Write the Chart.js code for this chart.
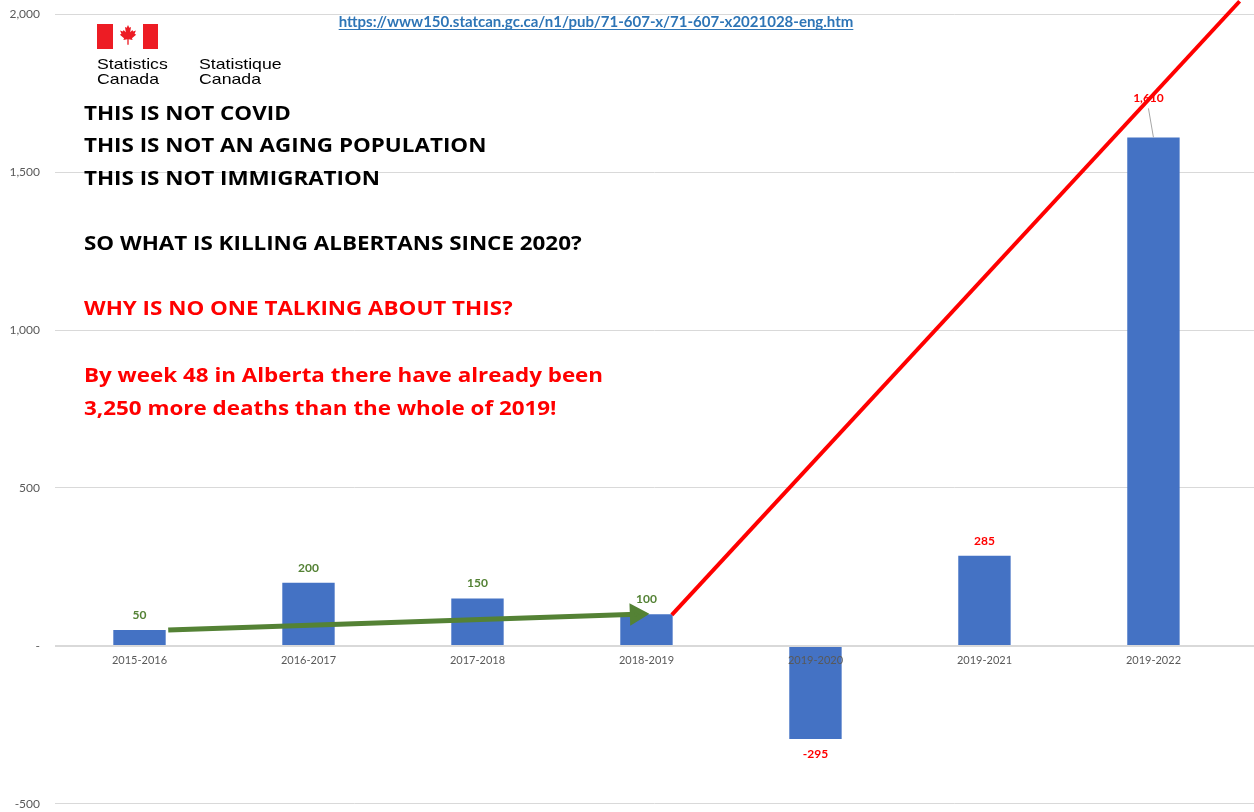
<!DOCTYPE html>
<html>
<head>
<meta charset="utf-8">
<script src="https://cdn.jsdelivr.net/npm/chart.js@4"></script>
<style>
  body { margin: 0; background: #fff; overflow: hidden; }
  /* canvas a bit larger than the window so the plot area lands where the reference has it */
  #wrap { width: 1267px; height: 834px; position: absolute; left: 0; top: -8px; }
</style>
</head>
<body>
<div id="wrap"><canvas id="deathChart"></canvas></div>
<script>
const categories = ['2015-2016', '2016-2017', '2017-2018', '2018-2019', '2019-2020', '2019-2021', '2019-2022']
const deathChange = [50, 200, 150, 100, -295, 285, 1610]
const labelColors = ['#548235', '#548235', '#548235', '#548235', '#ff0000', '#ff0000', '#ff0000']
// trend arrows, x is the category index
const greenTrend = [{x: 0.17, y: 50}, {x: 2.94, y: 100}]
const redTrend = [{x: 3.15, y: 98}, {x: 6.51, y: 2041}]

const blackLines = ['THIS IS NOT COVID', 'THIS IS NOT AN AGING POPULATION', 'THIS IS NOT IMMIGRATION', '', 'SO WHAT IS KILLING ALBERTANS SINCE 2020?']
const redLines = ['WHY IS NO ONE TALKING ABOUT THIS?', '', 'By week 48 in Alberta there have already been', '3,250 more deaths than the whole of 2019!']
const sourceUrl = 'https://www150.statcan.gc.ca/n1/pub/71-607-x/71-607-x2021028-eng.htm'

const leaf = [[0,-1],[0.12,-0.75],[0.27,-0.82],[0.2,-0.35],[0.4,-0.55],[0.46,-0.42],[0.72,-0.5],[0.6,-0.2],[0.74,-0.12],[0.36,0.2],[0.42,0.36],[0.06,0.3],[0.06,0.8],[-0.06,0.8],[-0.06,0.3],[-0.42,0.36],[-0.36,0.2],[-0.74,-0.12],[-0.6,-0.2],[-0.72,-0.5],[-0.46,-0.42],[-0.4,-0.55],[-0.2,-0.35],[-0.27,-0.82],[-0.12,-0.75]]

const extras = {
    id: 'extras',
    afterDatasetsDraw(chart) {
        const ctx = chart.ctx
        const meta = chart.getDatasetMeta(0)
        ctx.save()
        ctx.font = 'bold 12px Lato'
        ctx.textAlign = 'center'
        ctx.textBaseline = 'middle'
        meta.data.forEach((bar, i) => {
            const v = deathChange[i]
            const txt = v.toLocaleString('en-US')
            ctx.fillStyle = labelColors[i]
            if (v > 1000) {
                // label pulled up with a leader line
                ctx.strokeStyle = '#a6a6a6'
                ctx.lineWidth = 1
                ctx.beginPath()
                ctx.moveTo(bar.x - 5, bar.y - 29)
                ctx.lineTo(bar.x, bar.y)
                ctx.stroke()
                ctx.fillText(txt, bar.x - 5, bar.y - 39)
            } else if (v < 0) {
                ctx.fillText(txt, bar.x, bar.y + 15)
            } else {
                ctx.fillText(txt, bar.x, bar.y - 15)
            }
        })
        ctx.restore()
    },
    afterDraw(chart) {
        const ctx = chart.ctx
        ctx.save()
        ctx.translate(0, 8) // back to window coordinates
        // flag
        ctx.fillStyle = '#ed1c24'
        ctx.fillRect(97, 24, 16, 25)
        ctx.fillRect(143, 24, 15, 25)
        ctx.beginPath()
        leaf.forEach((p, i) => {
            const x = 128 + p[0] * 11, y = 36 + p[1] * 11
            if (i === 0) ctx.moveTo(x, y); else ctx.lineTo(x, y)
        })
        ctx.closePath()
        ctx.fill()

        // the source image is a bit stretched sideways
        ctx.save()
        ctx.translate(97, 0)
        ctx.scale(1.18, 1)
        ctx.fillStyle = '#000'
        ctx.font = '15px "Liberation Sans"'
        ctx.textBaseline = 'alphabetic'
        ctx.fillText('Statistics', 0, 69)
        ctx.fillText('Canada', 0, 84)
        ctx.fillText('Statistique', 102 / 1.18, 69)
        ctx.fillText('Canada', 102 / 1.18, 84)
        ctx.restore()

        // url
        ctx.font = 'bold 15px Lato'
        ctx.fillStyle = '#2e75b6'
        ctx.textAlign = 'center'
        ctx.textBaseline = 'alphabetic'
        ctx.fillText(sourceUrl, 596, 27)
        const w = ctx.measureText(sourceUrl).width
        ctx.fillRect(596 - w / 2, 29, w, 1)

        ctx.translate(84, 0)
        ctx.scale(1.12, 1)
        ctx.textAlign = 'left'
        ctx.textBaseline = 'middle'
        ctx.font = 'bold 20px "Open Sans"'
        ctx.fillStyle = '#000'
        blackLines.forEach((t, i) => ctx.fillText(t, 0, 114 + i * 32.5))
        ctx.fillStyle = '#ff0000'
        redLines.forEach((t, i) => ctx.fillText(t, 0, 309 + i * 33.5))
        ctx.restore()
    }
}

const ctx = document.getElementById('deathChart').getContext('2d')
const deathChart = new Chart(ctx, {
    type: 'bar',
    data: {
        datasets: [{
            label: 'Change in deaths',
            data: deathChange.map((v, i) => ({x: i, y: v})),
            backgroundColor: '#4472c4',
            categoryPercentage: 1,
            barPercentage: 0.31,
            order: 1
        }, {
            type: 'line',
            label: 'trend before',
            data: greenTrend,
            borderColor: '#548235',
            backgroundColor: '#548235',
            borderWidth: 5,
            pointStyle: 'triangle',
            pointRadius: [0, 8],
            pointRotation: 88,
            order: 0
        }, {
            type: 'line',
            label: 'trend after',
            data: redTrend,
            borderColor: '#ff0000',
            borderWidth: 4,
            pointRadius: 0,
            clip: false,
            order: 0
        }]
    },
    options: {
        animation: false,
        maintainAspectRatio: false,
        layout: {
            padding: 0
        },
        plugins: {
            legend: {display: false},
            tooltip: {enabled: false}
        },
        scales: {
            x: {
                type: 'linear',
                position: {y: 0},
                offset: false,
                min: -0.5,
                max: 6.595,
                afterBuildTicks: (scale) => {
                    scale.ticks = categories.map((c, i) => ({value: i}))
                },
                grid: {display: false, drawTicks: false},
                border: {display: false},
                ticks: {
                    z: 1, // labels sit on top of the negative bar like in the original
                    padding: 8,
                    color: '#595959',
                    font: {size: 11, family: 'Lato'},
                    callback: (v) => categories[v]
                }
            },
            y: {
                min: -500,
                max: 2000,
                afterFit: (scale) => { scale.width = 55 },
                grid: {
                    color: '#d9d9d9',
                    lineWidth: (c) => c.tick && c.tick.value === 0 ? 2 : 1,
                    drawTicks: false
                },
                border: {display: false},
                ticks: {
                    stepSize: 500,
                    padding: 15,
                    color: '#595959',
                    font: {size: 12, family: 'Lato'},
                    callback: (v) => v === 0 ? '-' : v.toLocaleString('en-US')
                }
            }
        }
    },
    plugins: [extras]
})
</script>
</body>
</html>
